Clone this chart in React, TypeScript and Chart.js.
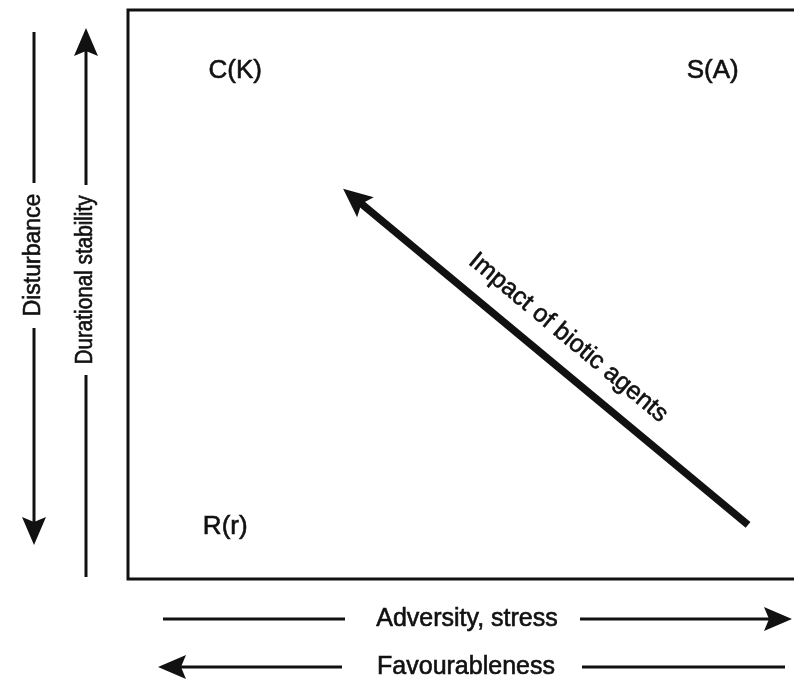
import React, { useEffect, useRef } from "react";
import { Chart, registerables } from "chart.js";

Chart.register(...registerables);

// ---- data (chart units: 0..100 on both axes) ----
const cornerLabels = ["C(K)", "S(A)", "R(r)"];
const cornerX = [16.1, 87.8, 14.6];
const cornerY = [89.3, 89.3, 9.1];

// diagonal arrow: [tail, head]
const arrowX = [93.1, 32.3];
const arrowY = [9.5, 68.6];
const arrowLabel = "Impact of biotic agents";
const arrowLabelX = [66.1];
const arrowLabelY = [42.4];

const leftAxisLabels = ["Disturbance", "Durational stability"];
const bottomAxisLabels = ["Adversity, stress", "Favourableness"];

const INK = "#111111";
const FONT = "'Liberation Sans', Arial, Helvetica, sans-serif";

function head(ctx: CanvasRenderingContext2D, tx: number, ty: number, ang: number, len = 28, half = 12) {
  const c = Math.cos(ang), s = Math.sin(ang);
  const bx = tx - c * len, by = ty - s * len;
  const nx = -s, ny = c;
  const notch = len * 0.82;
  ctx.beginPath();
  ctx.moveTo(tx, ty);
  ctx.lineTo(bx + nx * half, by + ny * half);
  ctx.lineTo(tx - c * notch, ty - s * notch);
  ctx.lineTo(bx - nx * half, by - ny * half);
  ctx.closePath();
  ctx.fill();
}

function line(ctx: CanvasRenderingContext2D, x1: number, y1: number, x2: number, y2: number, w: number) {
  ctx.lineWidth = w;
  ctx.beginPath();
  ctx.moveTo(x1, y1);
  ctx.lineTo(x2, y2);
  ctx.stroke();
}

function arrow(ctx: CanvasRenderingContext2D, x1: number, y1: number, tx: number, ty: number, w: number, len = 28, half = 12) {
  const ang = Math.atan2(ty - y1, tx - x1);
  const stop = len * 0.8;
  line(ctx, x1, y1, tx - Math.cos(ang) * stop, ty - Math.sin(ang) * stop, w);
  head(ctx, tx, ty, ang, len, half);
}

function boldText(ctx: CanvasRenderingContext2D, t: string, x: number, y: number) {
  ctx.fillText(t, x, y);
  ctx.lineWidth = 0.6;
  ctx.strokeText(t, x, y);
}

const diagramPlugin = {
  id: "diagram",
  afterDraw(chart: any) {
    const { ctx, chartArea: a, scales } = chart;
    const xs = scales.x, ys = scales.y;
    ctx.save();
    ctx.strokeStyle = INK;
    ctx.fillStyle = INK;
    ctx.lineCap = "butt";

    // frame (top, left, bottom)
    ctx.lineWidth = 3;
    ctx.lineJoin = "miter";
    ctx.beginPath();
    ctx.moveTo(a.right, a.top);
    ctx.lineTo(a.left, a.top);
    ctx.lineTo(a.left, a.bottom);
    ctx.lineTo(a.right, a.bottom);
    ctx.stroke();

    // corner labels
    ctx.font = `26px ${FONT}`;
    ctx.textAlign = "center";
    ctx.textBaseline = "middle";
    const metaC = chart.getDatasetMeta(0);
    cornerLabels.forEach((t, i) => {
      const p = metaC.data[i];
      boldText(ctx, t, p.x, p.y);
    });

    // diagonal arrow
    const metaA = chart.getDatasetMeta(1);
    const tail = metaA.data[0], tip = metaA.data[1];
    arrow(ctx, tail.x, tail.y, tip.x, tip.y, 7.5, 29, 13);

    // arrow label
    const ang = Math.atan2(tail.y - tip.y, tail.x - tip.x);
    const lx = xs.getPixelForValue(arrowLabelX[0]);
    const ly = ys.getPixelForValue(arrowLabelY[0]);
    ctx.save();
    ctx.translate(lx, ly);
    ctx.rotate(ang);
    ctx.font = `25px ${FONT}`;
    boldText(ctx, arrowLabel, 0, 0);
    ctx.restore();

    // left axis: Disturbance (down), Durational stability (up)
    ctx.font = `23px ${FONT}`;
    const dX = 34;
    line(ctx, dX, 32, dX, 183, 3);
    arrow(ctx, dX, 328, dX, 545, 3, 28, 12);
    ctx.save();
    ctx.translate(dX, 255);
    ctx.rotate(-Math.PI / 2);
    boldText(ctx, leftAxisLabels[0], 0, 0);
    ctx.restore();

    const sX = 86;
    arrow(ctx, sX, 185, sX, 28, 3, 28, 12);
    line(ctx, sX, 375, sX, 577, 3);
    ctx.save();
    ctx.translate(sX, 280);
    ctx.rotate(-Math.PI / 2);
    ctx.scale(0.9, 1);
    boldText(ctx, leftAxisLabels[1], 0, 0);
    ctx.restore();

    // bottom axis
    ctx.font = `25px ${FONT}`;
    const aY = 619;
    line(ctx, 163, aY, 345, aY, 3);
    arrow(ctx, 580, aY, 792, aY, 3, 28, 12);
    boldText(ctx, bottomAxisLabels[0], 467, aY);

    const fY = 667;
    arrow(ctx, 342, fY, 158, fY, 3, 28, 12);
    line(ctx, 582, fY, 785, fY, 3);
    boldText(ctx, bottomAxisLabels[1], 466, fY);

    ctx.restore();
  },
};

export default function App() {
  const ref = useRef<HTMLCanvasElement | null>(null);
  useEffect(() => {
    document.body.style.margin = "0";
    if (!ref.current) return;
    const chart = new Chart(ref.current, {
      type: "scatter",
      data: {
        datasets: [
          {
            label: "corners",
            data: cornerX.map((x, i) => ({ x, y: cornerY[i] })),
            pointRadius: 0,
            showLine: false,
          },
          {
            label: "impact",
            data: arrowX.map((x, i) => ({ x, y: arrowY[i] })),
            pointRadius: 0,
            showLine: false,
          },
        ],
      },
      options: {
        responsive: false,
        animation: false,
        devicePixelRatio: 1,
        layout: { padding: { left: 128, top: 10, right: 0, bottom: 102 } },
        scales: {
          x: { type: "linear", min: 0, max: 100, display: false },
          y: { type: "linear", min: 0, max: 100, display: false },
        },
        plugins: { legend: { display: false }, tooltip: { enabled: false } },
      },
      plugins: [diagramPlugin],
    });
    return () => chart.destroy();
  }, []);
  return (
    <div style={{ position: "absolute", left: 0, top: 0, width: 794, height: 681, background: "#fff" }}>
      <canvas ref={ref} width={794} height={681} />
    </div>
  );
}
